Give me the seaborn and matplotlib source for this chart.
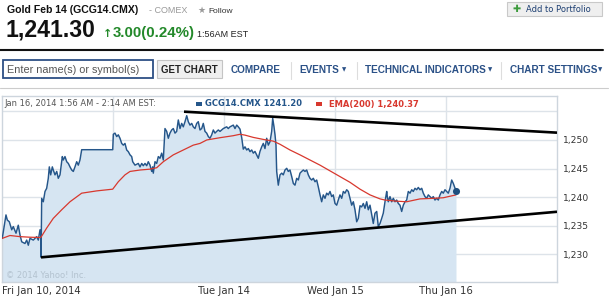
import matplotlib
matplotlib.use("Agg")
import matplotlib.pyplot as plt
import seaborn as sns
import numpy as np
from matplotlib.patches import Rectangle
from matplotlib.lines import Line2D

# ---------------- data (hours on a trading-day axis; 24 h per session day) ----------------
price_h = [0.06, 0.86, 1.15, 1.58, 2.10, 2.44, 3.03, 3.52, 3.89, 4.26, 4.97, 5.34, 5.69, 6.05,
           6.77, 7.50, 7.85, 8.22, 8.40, 8.45, 8.58, 8.93, 9.30, 9.66, 10.01, 10.23, 10.53, 10.88,
           11.09, 11.46, 11.83, 12.17, 12.54, 13.04, 13.25, 13.62, 13.99, 14.34, 14.70, 15.07,
           15.42, 15.78, 16.15, 16.50, 16.86, 17.23, 23.94, 24.07, 24.43, 24.80, 25.15, 25.51,
           25.88, 26.23, 26.59, 26.96, 27.31, 27.68, 28.04, 28.26, 28.76, 29.47, 29.84, 30.21,
           30.55, 30.92, 31.29, 31.63, 32.00, 32.37, 32.58, 32.71, 33.08, 33.45, 33.80, 34.16,
           34.53, 34.88, 35.24, 35.61, 35.96, 36.32, 36.69, 37.04, 37.41, 37.77, 38.12, 38.49,
           38.85, 39.20, 39.57, 39.94, 40.28, 40.65, 41.02, 41.36, 41.73, 42.10, 42.44, 42.81,
           43.18, 43.52, 43.89, 44.26, 44.61, 44.97, 45.34, 45.69, 46.05, 46.42, 46.77, 47.14,
           47.85, 48.58, 48.93, 49.30, 50.01, 50.38, 50.75, 51.09, 51.46, 51.83, 52.17, 52.54,
           52.91, 53.26, 53.62, 53.99, 54.34, 54.70, 55.07, 55.42, 55.78, 56.15, 56.50, 56.86,
           57.23, 57.58, 57.95, 58.31, 58.53, 58.81, 59.03, 59.24, 59.39, 59.74, 60.11, 60.48,
           60.82, 61.19, 61.56, 61.90, 62.27, 62.64, 62.99, 63.35, 63.72, 64.07, 64.43, 64.80,
           65.15, 65.51, 65.88, 66.23, 66.59, 66.96, 67.31, 67.68, 68.04, 68.39, 68.76, 69.12,
           69.47, 69.84, 70.20, 70.55, 70.92, 71.29, 71.63, 72.00, 72.37, 72.71, 73.08, 73.45,
           73.80, 74.16, 74.53, 74.88, 75.24, 75.61, 75.96, 76.32, 76.69, 77.04, 77.41, 77.77,
           78.12, 78.49, 78.85, 79.20, 79.57, 79.94, 80.28, 80.65, 81.02, 81.36, 81.73, 82.10,
           82.44, 82.81, 83.18, 83.31, 83.52, 83.89, 84.26, 84.61, 84.97, 85.34, 85.69, 86.05,
           86.42, 86.77, 87.14, 87.50, 87.85, 88.22, 88.59, 88.93, 89.30, 89.67, 90.01, 90.38,
           90.75, 91.09, 91.46, 91.83, 92.17, 92.54, 92.91, 93.25, 93.62, 93.99, 94.34, 94.70,
           95.07, 95.42, 95.78, 96.15, 96.50, 96.86, 97.23, 97.58, 97.95, 98.16]
price = [1232.8, 1236.9, 1236.0, 1235.7, 1234.3, 1234.85, 1233.7, 1235.1, 1233.4, 1232.2, 1231.9,
         1232.5, 1231.6, 1232.8, 1232.5, 1233.1, 1232.5, 1234.3, 1233.4, 1229.5, 1239.8, 1239.2,
         1241.0, 1241.55, 1243.3, 1245.3, 1243.9, 1245.3, 1244.75, 1243.9, 1244.5, 1243.3, 1243.9,
         1247.1, 1246.5, 1247.1, 1246.2, 1245.9, 1245.3, 1244.75, 1244.5, 1245.3, 1246.2, 1245.6,
         1246.5, 1248.3, 1248.3, 1251.0, 1251.2, 1250.6, 1250.9, 1250.3, 1249.4, 1249.1, 1249.4,
         1248.25, 1247.96, 1247.4, 1247.1, 1246.2, 1245.6, 1245.9, 1245.3, 1245.9, 1245.5, 1245.9,
         1245.5, 1246.2, 1245.6, 1244.5, 1245.3, 1244.2, 1246.2, 1245.9, 1247.1, 1246.8, 1247.7,
         1246.5, 1252.0, 1251.5, 1250.3, 1251.2, 1251.75, 1252.0, 1251.2, 1251.5, 1253.5, 1252.0,
         1252.9, 1252.3, 1253.2, 1254.25, 1253.2, 1252.6, 1252.9, 1252.3, 1252.0, 1252.9, 1253.2,
         1251.75, 1252.0, 1252.9, 1251.5, 1251.2, 1250.6, 1250.3, 1250.9, 1251.75, 1251.2, 1251.5,
         1251.75, 1251.5, 1252.0, 1252.3, 1252.0, 1252.3, 1252.6, 1252.0, 1252.6, 1252.3, 1251.9,
         1250.4, 1248.4, 1248.8, 1248.25, 1248.5, 1247.96, 1248.25, 1247.7, 1248.0, 1247.4, 1246.8,
         1248.0, 1248.8, 1249.4, 1248.5, 1250.3, 1249.1, 1249.7, 1251.5, 1253.8, 1252.3, 1250.9,
         1249.1, 1244.5, 1242.1, 1243.9, 1244.2, 1243.9, 1244.75, 1245.05, 1244.5, 1244.75, 1243.6,
         1242.4, 1242.1, 1243.3, 1243.0, 1244.2, 1244.5, 1244.75, 1244.5, 1244.75, 1243.9, 1243.3,
         1243.0, 1243.3, 1242.7, 1243.0, 1241.8, 1240.4, 1239.2, 1240.4, 1239.8, 1240.7, 1240.4,
         1241.0, 1240.1, 1240.4, 1238.9, 1238.6, 1239.5, 1240.4, 1239.8, 1241.0, 1240.7, 1241.3,
         1241.0, 1239.8, 1238.6, 1239.2, 1237.8, 1235.7, 1236.3, 1238.5, 1238.3, 1238.9, 1238.05,
         1239.2, 1237.8, 1238.6, 1236.9, 1235.4, 1237.2, 1237.5, 1234.85, 1235.4, 1236.3, 1237.2,
         1239.2, 1241.0, 1240.1, 1239.2, 1240.1, 1239.2, 1239.8, 1239.2, 1239.5, 1238.9, 1238.6,
         1237.5, 1238.6, 1239.2, 1239.5, 1241.0, 1240.7, 1241.3, 1241.0, 1241.55, 1241.3, 1241.7,
         1241.3, 1241.55, 1240.7, 1240.1, 1239.8, 1240.4, 1240.1, 1239.8, 1240.1, 1239.5, 1239.8,
         1239.5, 1240.4, 1241.0, 1240.7, 1241.3, 1241.0, 1240.7, 1241.55, 1243.0, 1242.4, 1241.55,
         1241.1]

ema_h = [0.06, 1.73, 3.89, 6.05, 8.22, 8.43, 9.66, 11.09, 12.91, 14.70, 17.23, 20.48, 23.94,
         25.15, 26.59, 27.68, 29.84, 32.00, 33.45, 34.88, 37.04, 39.20, 41.36, 42.81, 44.26,
         47.14, 50.01, 51.46, 52.54, 54.34, 56.50, 58.66, 60.11, 62.27, 64.43, 66.59, 68.76,
         70.92, 73.08, 75.24, 77.41, 79.57, 81.73, 82.81, 85.34, 87.50, 90.38, 93.25, 95.42, 98.16]
ema = [1232.8, 1233.3, 1233.1, 1233.0, 1232.95, 1233.0, 1234.6, 1236.3, 1237.8, 1239.2, 1240.7,
       1241.1, 1241.4, 1242.7, 1243.9, 1244.5, 1244.75, 1244.9, 1245.15, 1246.2, 1247.4, 1248.25,
       1249.1, 1249.4, 1250.0, 1250.4, 1250.75, 1251.0, 1250.85, 1250.45, 1250.1, 1249.8, 1249.25,
       1248.25, 1247.4, 1246.5, 1245.6, 1244.6, 1243.6, 1242.6, 1241.4, 1240.4, 1239.7, 1239.5,
       1239.3, 1239.2, 1239.7, 1239.8, 1239.9, 1240.4]

upper_trend_h = [39.35, 120.0]
upper_trend = [1254.95, 1251.28]
lower_trend_h = [8.43, 120.0]
lower_trend = [1229.48, 1237.45]

y_ticks = [1230, 1235, 1240, 1245, 1250, 1255]
y_tick_labels = ["1,230", "1,235", "1,240", "1,245", "1,250", ""]
day_grid = [24, 48, 72, 96]
x_ticks = [0, 48, 72, 96]
x_tick_labels = ["Fri Jan 10, 2014", "Tue Jan 14", "Wed Jan 15", "Thu Jan 16"]

# ---------------- figure ----------------
sns.set_style("white")
plt.rcParams["font.family"] = ["DejaVu Sans"]

W, H = 613, 299
fig = plt.figure(figsize=(W / 100, H / 100), dpi=100)
fig.patch.set_facecolor("white")


def fx(px):
    return px / W


def fy(py):
    return 1 - py / H


ax_l, ax_r, ax_t, ax_b = 2, 557, 96, 282
ax = fig.add_axes([fx(ax_l), fy(ax_b), (ax_r - ax_l) / W, (ax_b - ax_t) / H])
ymin, ymax = 1225.17, 1257.69
ax.set_xlim(0, 120)
ax.set_ylim(ymin, ymax)

grid_c = "#dde3e9"
for gy in y_ticks:
    ax.axhline(gy, color=grid_c, lw=1, zorder=0)
for gx in day_grid:
    ax.axvline(gx, color=grid_c, lw=1, zorder=0)

ax.fill_between(price_h, price, ymin, color="#d6e5f2", lw=0, zorder=1)
sns.lineplot(x=price_h, y=price, ax=ax, color="#25568a", lw=1.05, sort=False,
             estimator=None, zorder=3)
sns.lineplot(x=ema_h, y=ema, ax=ax, color="#d8382e", lw=0.9, sort=False,
             estimator=None, zorder=4)
ax.scatter([price_h[-1]], [price[-1]], s=26, color="#1f4f7e", zorder=6, linewidths=0)

ax.plot(upper_trend_h, upper_trend, color="black", lw=1.9, zorder=5, solid_capstyle="butt")
ax.plot(lower_trend_h, lower_trend, color="black", lw=1.9, zorder=5, solid_capstyle="butt")

for s in ax.spines.values():
    s.set_color("#cdd5dd")
    s.set_linewidth(1)

ax.yaxis.tick_right()
ax.set_yticks(y_ticks)
ax.set_yticklabels(y_tick_labels)
ax.set_xticks(x_ticks)
ax.set_xticklabels(x_tick_labels)
ax.tick_params(axis="y", length=0, pad=4, labelsize=6.6, labelcolor="#333333")
ax.tick_params(axis="x", length=0, pad=3, labelsize=7.3, labelcolor="#333333")
xl = ax.get_xticklabels()
xl[0].set_horizontalalignment("left")
ax.set_xlabel("")
ax.set_ylabel("")

ax.text(0.008, 0.035, "© 2014 Yahoo! Inc.", transform=ax.transAxes, fontsize=6,
        color="#b3c2cf", ha="left", va="center")

# legend strip inside chart
fig.text(fx(4), fy(104), "Jan 16, 2014 1:56 AM - 2:14 AM EST:", fontsize=6,
         color="#555555", ha="left", va="center")
fig.add_artist(Rectangle((fx(196), fy(106)), 6 / W, 4 / H, transform=fig.transFigure,
                         color="#25568a", lw=0))
fig.text(fx(205), fy(104), "GCG14.CMX 1241.20", fontsize=6, fontweight="bold",
         color="#25568a", ha="left", va="center")
fig.add_artist(Rectangle((fx(316), fy(106)), 6 / W, 4 / H, transform=fig.transFigure,
                         color="#d8382e", lw=0))
fig.text(fx(329), fy(104), "EMA(200) 1,240.37", fontsize=6, fontweight="bold",
         color="#d8382e", ha="left", va="center")

# ---------------- header ----------------
arial = ["Liberation Sans", "DejaVu Sans"]
fig.text(fx(7), fy(13), "Gold Feb 14 (GCG14.CMX)", fontsize=7.6, fontweight="bold",
         family=arial, color="#111111", va="baseline")
fig.text(fx(149), fy(13), "- COMEX", fontsize=6.5, family=arial, color="#999999",
         va="baseline")
fig.text(fx(197), fy(13), "★", fontsize=6.5, color="#999999", va="baseline")
fig.text(fx(208), fy(13), "Follow", fontsize=6, family=arial, color="#333333",
         va="baseline")
fig.text(fx(6), fy(37), "1,241.30", fontsize=16.6, fontweight="bold", family=arial,
         color="#111111", va="baseline")
fig.text(fx(103), fy(37), "↑", fontsize=8, fontweight="bold", color="#23892a",
         va="baseline")
fig.text(fx(113), fy(37), "3.00(0.24%)", fontsize=10.8, fontweight="bold", family=arial,
         color="#23892a", va="baseline")
fig.text(fx(197), fy(37), "1:56AM EST", fontsize=6.5, family=arial, color="#222222",
         va="baseline")
fig.add_artist(Line2D([fx(0), fx(603)], [fy(50), fy(50)], transform=fig.transFigure,
                      color="#111111", lw=1.5))

# Add to Portfolio button
fig.add_artist(Rectangle((fx(507), fy(16)), 95 / W, 14 / H, transform=fig.transFigure,
                         facecolor="#efefef", edgecolor="#c9c9c9", lw=0.8))
fig.text(fx(517), fy(9), "✚", fontsize=7, color="#3d9b3d", ha="center", va="center")
fig.text(fx(526), fy(9), "Add to Portfolio", fontsize=6, color="#1d3f72", ha="left",
         va="center")

# ---------------- toolbar ----------------
fig.add_artist(Rectangle((fx(3), fy(78.5)), 150 / W, 18 / H, transform=fig.transFigure,
                         facecolor="white", edgecolor="#2d4f85", lw=1.3))
fig.text(fx(7), fy(70), "Enter name(s) or symbol(s)", fontsize=7.8, family=arial,
         color="#555555", ha="left", va="center")
fig.add_artist(Rectangle((fx(157), fy(78.5)), 65 / W, 18 / H, transform=fig.transFigure,
                         facecolor="#efefef", edgecolor="#c4c4c4", lw=0.8))
fig.text(fx(189.5), fy(70), "GET CHART", fontsize=7, fontweight="bold", family=arial,
         color="#222222", ha="center", va="center")

nav_c = "#2b5187"
fig.text(fx(231), fy(70), "COMPARE", fontsize=7.2, fontweight="bold", family=arial,
         color=nav_c, ha="left", va="center")
fig.text(fx(299), fy(70), "EVENTS", fontsize=7.2, fontweight="bold", family=arial,
         color=nav_c, ha="left", va="center")
fig.text(fx(342), fy(70), "▼", fontsize=4, color=nav_c, ha="left", va="center")
fig.text(fx(365), fy(70), "TECHNICAL INDICATORS", fontsize=7.2, fontweight="bold",
         family=arial, color=nav_c, ha="left", va="center")
fig.text(fx(488), fy(70), "▼", fontsize=4, color=nav_c, ha="left", va="center")
fig.text(fx(510), fy(70), "CHART SETTINGS", fontsize=7.2, fontweight="bold",
         family=arial, color=nav_c, ha="left", va="center")
fig.text(fx(598), fy(70), "▼", fontsize=4, color=nav_c, ha="left", va="center")
for sx in [291, 357, 501]:
    fig.add_artist(Line2D([fx(sx), fx(sx)], [fy(62), fy(79)], transform=fig.transFigure,
                          color="#dddddd", lw=0.8))
fig.add_artist(Line2D([fx(0), fx(608)], [fy(88), fy(88)], transform=fig.transFigure,
                      color="#cccccc", lw=0.8))

fig.savefig("out.png", dpi=100)
